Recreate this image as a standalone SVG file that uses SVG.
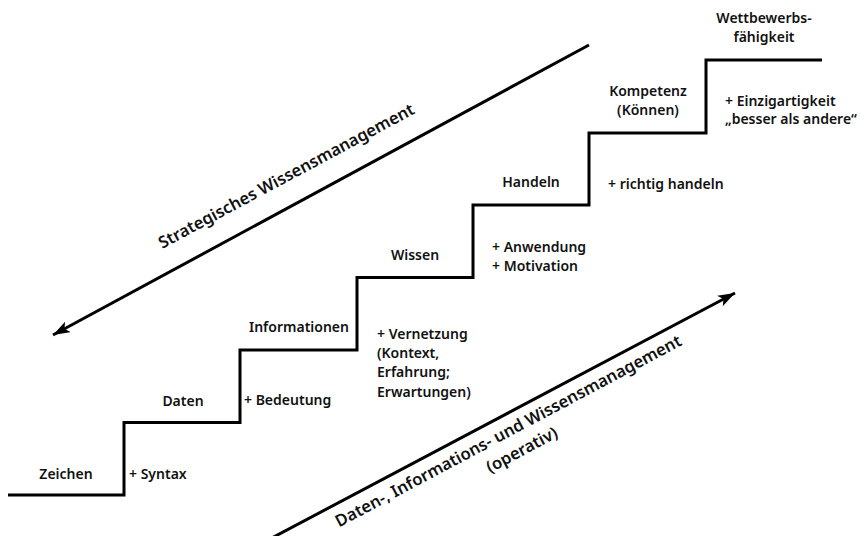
<svg xmlns="http://www.w3.org/2000/svg" width="860" height="536" viewBox="0 0 860 536">
<style>
.t{font-family:"Noto Sans","Open Sans","Liberation Sans",sans-serif;font-weight:600;font-size:14px;fill:#111}
.c{text-anchor:middle}
.big{font-size:16.6px}
.ln{fill:none;stroke:#000;stroke-width:3}
</style>
<defs>
<marker id="ah" markerUnits="userSpaceOnUse" markerWidth="20" markerHeight="14" refX="17" refY="6" orient="auto">
<path d="M0,0 L17,6 L0,12 L4,6 Z" fill="#000"/>
</marker>
</defs>
<rect width="860" height="536" fill="#fff"/>
<g id="connectors">
<path id="stairs" class="ln" d="M8,495 H124 V422.5 H240 V350 H357 V277.5 H473 V205 H589 V133 H706 V60 H822" stroke-linejoin="miter"/>
<line id="arrow-strategic" class="ln" x1="589" y1="45" x2="53" y2="335" marker-end="url(#ah)"/>
<line id="arrow-operativ" class="ln" x1="268" y1="540" x2="735" y2="293" marker-end="url(#ah)"/>
</g>
<g id="n-zeichen"><text class="t c" x="66" y="479">Zeichen</text><text class="t" x="129" y="479">+ Syntax</text></g>
<g id="n-daten"><text class="t c" x="183" y="406">Daten</text><text class="t" x="244" y="405">+ Bedeutung</text></g>
<g id="n-informationen"><text class="t c" x="299" y="332">Informationen</text>
<text class="t" x="377" y="339">+ Vernetzung</text><text class="t" x="377" y="358">(Kontext,</text><text class="t" x="377" y="377">Erfahrung;</text><text class="t" x="377" y="397">Erwartungen)</text></g>
<g id="n-wissen"><text class="t c" x="415" y="260">Wissen</text><text class="t" x="492" y="252">+ Anwendung</text><text class="t" x="492" y="271">+ Motivation</text></g>
<g id="n-handeln"><text class="t c" x="531" y="187">Handeln</text><text class="t" x="608" y="189">+ richtig handeln</text></g>
<g id="n-kompetenz"><text class="t c" x="648" y="96">Kompetenz</text><text class="t c" x="648" y="115">(Können)</text>
<text class="t" x="725" y="106">+ Einzigartigkeit</text><text class="t" x="725" y="124">„besser als andere“</text></g>
<g id="n-wettbewerb"><text class="t c" x="764" y="23">Wettbewerbs-</text><text class="t c" x="764" y="42">fähigkeit</text></g>
<g id="label-strategic"><text class="t c big" transform="translate(289,181) rotate(-28.2)">Strategisches Wissensmanagement</text></g>
<g id="label-operativ"><text class="t c big" transform="translate(511,436) rotate(-28)">Daten-, Informations- und Wissensmanagement</text>
<text class="t c big" transform="translate(511,436) rotate(-28) translate(3,23)">(operativ)</text></g>
</svg>
